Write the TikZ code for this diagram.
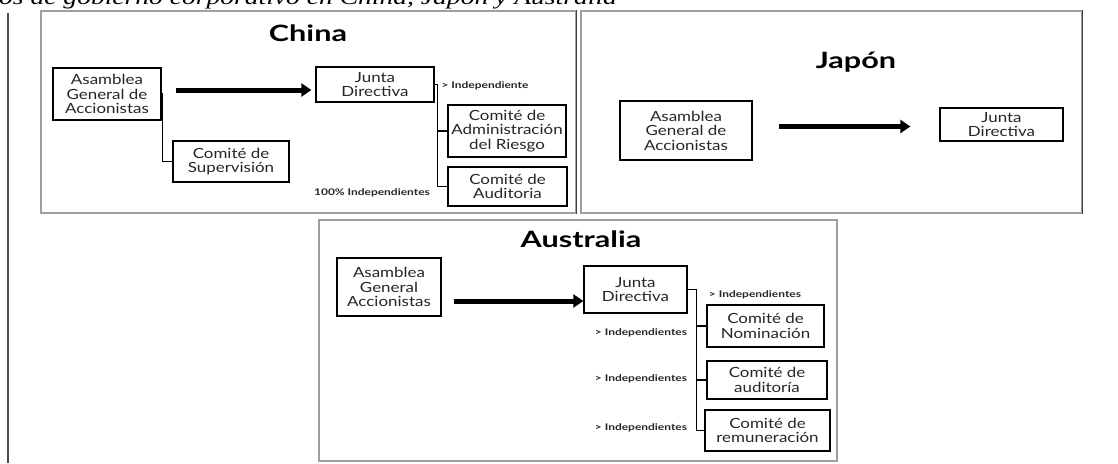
\documentclass[tikz,border=0pt]{standalone}
\usepackage{fontspec}
\setmainfont{Lato}[FakeStretch=1.21]
\newfontfamily\ttlfont{Lato}[FakeStretch=1.36]
\newfontfamily\lblfont{Lato}[FakeStretch=1.3]
\newfontfamily\capfont{Liberation Serif}[FakeStretch=1.3]
\usetikzlibrary{arrows.meta}
\tikzset{
  box/.style={draw=black, line width=1.3pt, fill=white, inner sep=0pt, align=center,
    text=black!85, font=\fontsize{14}{14.5}\selectfont},
  frame/.style={draw=gray!75, line width=1.2pt, inner sep=0pt},
  darkedge/.style={draw=black!75, line width=1.2pt},
  lbl/.style={font=\lblfont\fontsize{9.2}{10}\selectfont\bfseries, text=black!85, inner sep=0pt},
  ttl/.style={font=\ttlfont\fontsize{22.5}{24}\selectfont\bfseries, inner sep=0pt, anchor=base},
  conn/.style={line width=1.6pt, draw=black},
  bigarrow/.style={line width=5pt, draw=black, -{Triangle[length=10pt,width=13pt]}},
}
\begin{document}
\begin{tikzpicture}[x=1pt, y=-1pt]
\useasboundingbox (0,0) rectangle (1118,463);
% caption (cut at top)
\node[anchor=base west, inner sep=0pt, font=\capfont\itshape\fontsize{21.2}{22}\selectfont] (cap) at (-1,4.5)
  {os de gobierno corporativo en China, Japón y Australia};
\draw[line width=1.5pt, gray!60!black] (8,13) -- (8,463);
% frames
\node[frame, minimum width=535pt, minimum height=202pt] (fchina) at (308.5,112) {};
\node[frame, minimum width=501pt, minimum height=202pt] (fjapon) at (831.5,112) {};
\node[frame, minimum width=518pt, minimum height=241pt] (faus) at (578,340.5) {};
\draw[darkedge] (fchina.north east) -- (fchina.south east);
\draw[darkedge] (fjapon.north east) -- (fjapon.south east);
% ---------- China ----------
\node[ttl] (tchina) at (308,41) {China};
\node[box, minimum width=108pt, minimum height=52pt] (casm) at (107,94) {Asamblea\\General de\\Accionistas};
\node[box, minimum width=118pt, minimum height=35pt] (cjun) at (375,84.5) {Junta\\Directiva};
\node[box, minimum width=116pt, minimum height=41pt] (csup) at (231,161.5) {Comité de\\Supervisión};
\node[box, minimum width=118pt, minimum height=52pt] (cadm) at (507,131) {Comité de\\Administración\\del Riesgo};
\node[box, minimum width=119pt, minimum height=39pt] (caud) at (507.5,186.5) {Comité de\\Auditoria};
\node[lbl] (cl1) at (485,86) {> Independiente};
\node[lbl] (cl2) at (372,193) {100\% Independientes};
\draw[bigarrow] ([xshift=14pt,yshift=4pt]casm.east) -- ([xshift=-4pt,yshift=-5.5pt]cjun.west);
\draw[conn] (casm.east) -- ++(1,0) |- (csup.west);
\draw[conn] (cjun.east) -- ++(3,0) coordinate (cv) -- (cv |- caud.west) -- (caud.west);
\draw[conn] (cv |- cadm.west) -- (cadm.west);
% ---------- Japon ----------
\node[ttl] (tjapon) at (856,68.5) {Japón};
\node[box, minimum width=132pt, minimum height=59pt] (jasm) at (686,130.5) {Asamblea\\General de\\Accionistas};
\node[box, minimum width=123pt, minimum height=33pt] (jjun) at (1001.5,124.5) {Junta\\Directiva};
\draw[bigarrow] ([xshift=26pt,yshift=4pt]jasm.east) -- ([xshift=-29pt,yshift=-2pt]jjun.west);
% ---------- Australia ----------
\node[ttl] (taus) at (581,247) {Australia};
\node[box, minimum width=104pt, minimum height=58pt] (aasm) at (389,287) {Asamblea\\General\\Accionistas};
\node[box, minimum width=103pt, minimum height=47pt] (ajun) at (635.5,289.5) {Junta\\Directiva};
\node[box, minimum width=117pt, minimum height=42pt] (anom) at (765.5,326) {Comité de\\Nominación};
\node[box, minimum width=120pt, minimum height=38pt] (aaud) at (767,380) {Comité de\\auditoría};
\node[box, minimum width=125pt, minimum height=41pt] (arem) at (767.5,430.5) {Comité de\\remuneración};
\node[lbl] (al0) at (755,295) {> Independientes};
\node[lbl] (al1) at (641,333) {> Independientes};
\node[lbl] (al2) at (641,379) {> Independientes};
\node[lbl] (al3) at (641,428) {> Independientes};
\draw[bigarrow] ([xshift=12pt,yshift=-14pt]aasm.east) -- ([yshift=-11.5pt]ajun.west);
\draw[conn] (ajun.east) -- ++(9,0) coordinate (av) -- (av |- arem.west) -- (arem.west);
\draw[conn] (av |- anom.west) -- (anom.west);
\draw[conn] (av |- aaud.west) -- (aaud.west);
\end{tikzpicture}
\end{document}
